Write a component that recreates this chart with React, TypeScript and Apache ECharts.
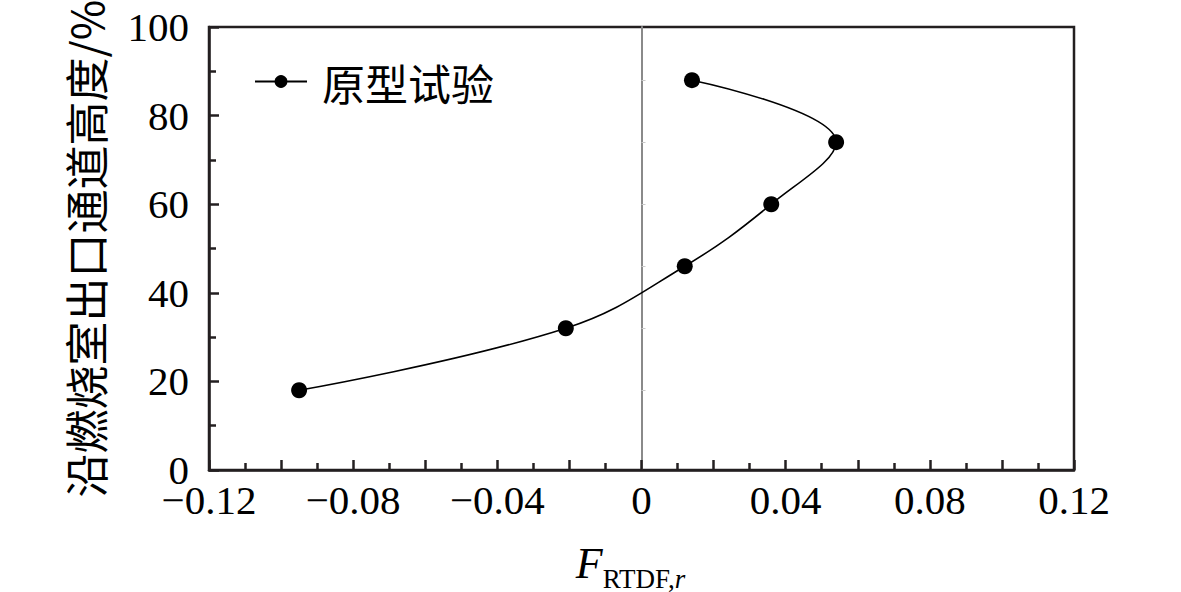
import React, { useEffect, useRef } from "react";
import * as echarts from "echarts";

const xValues = [-0.095, -0.021, 0.012, 0.036, 0.054, 0.014];
const yValues = [18, 32, 46, 60, 74, 88];
const seriesName = "原型试验";
const yAxisName = "沿燃烧室出口通道高度/%";
const zeroLineTicks = [18, 32, 46, 60, 74, 88];

const serif = "'Liberation Serif', 'DejaVu Serif', serif";
const cjk = "'Noto Sans CJK SC', sans-serif";

export default function App() {
  const ref = useRef<HTMLDivElement>(null);
  useEffect(() => {
    if (!ref.current) return;
    const chart = echarts.init(ref.current, null, { renderer: "svg" });
    const fmtX = (v: number) => {
      const k = Math.round(v * 100);
      if (k % 4 !== 0) return "";
      if (k === 0) return "0";
      const s = Math.abs(v).toFixed(2);
      return (k < 0 ? "\u2212" : "") + s;
    };
    chart.setOption({
      animation: false,
      backgroundColor: "#ffffff",
      grid: {
        left: 209,
        right: 107,
        top: 27,
        bottom: 122,
        outerBoundsMode: "none",
        containLabel: false,
        show: true,
        borderColor: "#231f20",
        borderWidth: 2.5,
        backgroundColor: "transparent",
      },
      legend: {
        left: 249,
        top: 55,
        itemWidth: 52,
        itemHeight: 16,
        data: [seriesName],
        textStyle: {
          fontFamily: cjk,
          fontSize: 43,
          color: "#000",
          padding: [0, 0, 0, 10],
        },
      },
      xAxis: {
        type: "value",
        min: -0.12,
        max: 0.12,
        interval: 0.02,
        axisLine: { onZero: false, lineStyle: { color: "#231f20", width: 2.5 } },
        axisTick: { inside: true, length: 10, lineStyle: { color: "#231f20", width: 2.5 } },
        minorTick: { show: true, splitNumber: 2, length: 7, lineStyle: { color: "#231f20", width: 2.5 } },
        splitLine: { show: false },
        axisLabel: {
          formatter: fmtX,
          fontFamily: serif,
          fontSize: 41,
          color: "#000",
          margin: 9,
          showMinLabel: true,
          showMaxLabel: true,
        },
        name: "{f|F}{s|RTDF,}{r|r}",
        nameLocation: "middle",
        nameGap: 71,
        nameTextStyle: {
          padding: [0, 22, 0, 0],
          rich: {
            f: { fontFamily: serif, fontStyle: "italic", fontSize: 44, color: "#000", verticalAlign: "bottom" },
            s: { fontFamily: serif, fontSize: 27, color: "#000", verticalAlign: "bottom", padding: [0, 0, -7, 0] },
            r: { fontFamily: serif, fontStyle: "italic", fontSize: 27, color: "#000", verticalAlign: "bottom", padding: [0, 0, -7, 0] },
          },
        },
      },
      yAxis: [
        {
          type: "value",
          min: 0,
          max: 100,
          interval: 20,
          position: "left",
          axisLine: { show: true, onZero: false, lineStyle: { color: "#231f20", width: 2.5 } },
          axisTick: { inside: true, length: 10, lineStyle: { color: "#231f20", width: 2.5 } },
          minorTick: { show: true, splitNumber: 2, length: 7, lineStyle: { color: "#231f20", width: 2.5 } },
          splitLine: { show: false },
          axisLabel: { fontFamily: serif, fontSize: 41, color: "#000", margin: 20 },
          name: yAxisName,
          nameLocation: "middle",
          nameRotate: 90,
          nameGap: 102,
          nameTextStyle: { fontFamily: cjk, fontSize: 44, color: "#000" },
        },
        {
          type: "value",
          min: 0,
          max: 100,
          position: "right",
          axisLine: { show: true, onZero: true, onZeroAxisIndex: 0, lineStyle: { color: "#8a8a8a", width: 2 } },
          axisTick: {
            show: true,
            inside: false,
            length: 4,
            customValues: zeroLineTicks,
            lineStyle: { color: "#c8c8c8", width: 1 },
          },
          axisLabel: { show: false },
          splitLine: { show: false },
        },
      ],
      series: [
        {
          name: seriesName,
          type: "line",
          yAxisIndex: 0,
          data: xValues.map((x, i) => [x, yValues[i]]),
          smooth: 0.4,
          symbol: "circle",
          symbolSize: 16,
          itemStyle: { color: "#000" },
          lineStyle: { color: "#000", width: 1.6 },
        },
      ],
    });
    return () => chart.dispose();
  }, []);
  return (
    <div
      ref={ref}
      style={{ position: "fixed", left: 0, top: 0, width: 1181, height: 592, background: "#fff" }}
    />
  );
}
